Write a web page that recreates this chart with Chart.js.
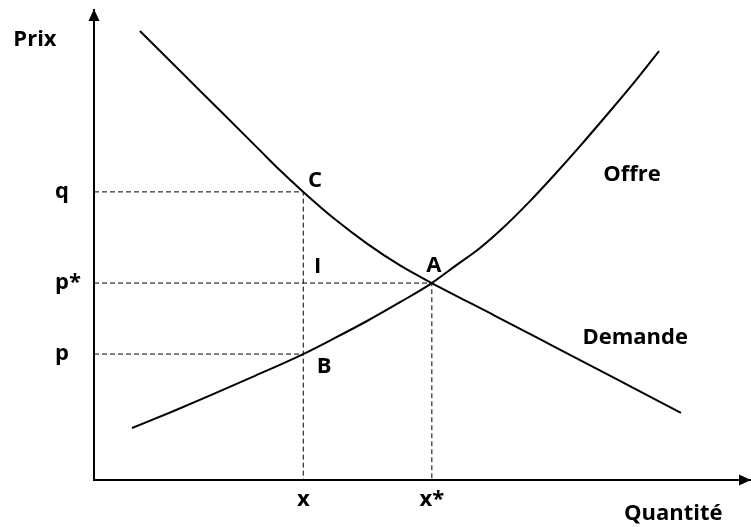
<!DOCTYPE html>
<html>
<head>
<meta charset="utf-8">
<script src="https://cdn.jsdelivr.net/npm/chart.js@4/dist/chart.umd.min.js"></script>
<style>
html,body{margin:0;padding:0;background:#fff;}
canvas{display:block;}
</style>
</head>
<body>
<canvas id="c" width="751" height="527"></canvas>
<script>
// ---- data (arbitrary units: quantity 0-100, price 0-100) ----
const demandX = [7.0, 13.1, 19.2, 25.3, 28.35, 31.9, 36.74, 41.62, 46.65, 51.5, 61.13, 70.43, 79.88, 89.48];
const demandY = [95.53, 87.06, 78.6, 70.13, 65.89, 61.3, 55.47, 50.3, 45.66, 41.9, 34.94, 28.17, 21.28, 14.26];
const supplyX = [5.79, 11.89, 17.99, 24.09, 31.9, 36.74, 41.62, 46.65, 51.5, 55.18, 58.84, 62.65, 66.46, 70.27, 74.09, 77.9, 81.71, 86.13];
const supplyY = [11.06, 14.53, 18.15, 21.89, 26.8, 30.23, 33.83, 37.83, 41.9, 45.66, 49.38, 54.06, 59.34, 65.06, 71.04, 77.23, 83.53, 91.26];

const xTickValues = [31.9, 51.5];
const xTickLabels = ['x', 'x*'];
const yTickValues = [26.8, 41.9, 61.3];
const yTickLabels = ['p', 'p*', 'q'];

const labelTexts = ['Prix', 'Quantité', 'Offre', 'Demande', 'C', 'I', 'A', 'B'];
const labelX = [-9.0, 88.3, 82.0, 82.5, 33.7, 34.1, 51.8, 35.1];
const labelY = [92.3, -8.5, 63.6, 28.9, 62.3, 44.0, 44.3, 22.8];

// ---- build datasets ----
const pts = (xs, ys) => xs.map((x, i) => ({x: x, y: ys[i]}));
const xq = xTickValues[0], xs = xTickValues[1];
const p = yTickValues[0], ps = yTickValues[1], q = yTickValues[2];

const FONT = '"Open Sans", "DejaVu Sans", sans-serif';
const FSIZE = 22;

const dashed = (data) => ({
  data: data, showLine: true, borderColor: '#000', borderWidth: 1,
  borderDash: [5, 3], pointRadius: 0, fill: false, tension: 0
});

const labelsPlugin = {
  id: 'labels',
  afterDraw(chart) {
    const ctx = chart.ctx, xS = chart.scales.x, yS = chart.scales.y, a = chart.chartArea;
    ctx.save();
    // arrows
    ctx.fillStyle = '#000';
    ctx.beginPath();
    ctx.moveTo(a.left, a.top - 1);
    ctx.lineTo(a.left - 5.5, a.top + 11);
    ctx.lineTo(a.left + 5.5, a.top + 11);
    ctx.closePath(); ctx.fill();
    ctx.beginPath();
    ctx.moveTo(a.right + 1, a.bottom);
    ctx.lineTo(a.right - 11, a.bottom - 5.5);
    ctx.lineTo(a.right - 11, a.bottom + 5.5);
    ctx.closePath(); ctx.fill();
    // text labels
    ctx.font = 'bold ' + FSIZE + 'px ' + FONT;
    ctx.textAlign = 'center';
    ctx.textBaseline = 'alphabetic';
    labelTexts.forEach((t, i) => {
      ctx.fillText(t, xS.getPixelForValue(labelX[i]), yS.getPixelForValue(labelY[i]));
    });
    ctx.restore();
  }
};

new Chart(document.getElementById('c'), {
  type: 'scatter',
  data: {
    datasets: [
      dashed([{x: 0, y: q}, {x: xq, y: q}, {x: xq, y: 0}]),
      dashed([{x: 0, y: p}, {x: xq, y: p}]),
      dashed([{x: 0, y: ps}, {x: xs, y: ps}, {x: xs, y: 0}]),
      {data: pts(demandX, demandY), showLine: true, borderColor: '#000', borderWidth: 2,
       pointRadius: 0, cubicInterpolationMode: 'monotone', fill: false},
      {data: pts(supplyX, supplyY), showLine: true, borderColor: '#000', borderWidth: 2,
       pointRadius: 0, cubicInterpolationMode: 'monotone', fill: false}
    ]
  },
  options: {
    responsive: false,
    animation: false,
    devicePixelRatio: 1,
    layout: {padding: {left: 55, top: 10, right: 1, bottom: 0}},
    plugins: {legend: {display: false}, tooltip: {enabled: false}, title: {display: false}},
    scales: {
      x: {
        type: 'linear', min: 0, max: 100,
        grid: {display: false, drawTicks: false},
        border: {display: true, color: '#000', width: 2},
        afterBuildTicks: s => { s.ticks = xTickValues.map(v => ({value: v})); },
        afterFit: s => { s.height = 47; s.paddingLeft = 0; s.paddingRight = 0; },
        ticks: {
          autoSkip: false, maxRotation: 0, padding: 7, color: '#000',
          font: {family: FONT, size: FSIZE, weight: 'bold'},
          callback: (v, i) => xTickLabels[i]
        }
      },
      y: {
        type: 'linear', min: 0, max: 100,
        grid: {display: false, drawTicks: false},
        border: {display: true, color: '#000', width: 2},
        afterBuildTicks: s => { s.ticks = yTickValues.map(v => ({value: v})); },
        afterFit: s => { s.width = 39; s.paddingTop = 0; s.paddingBottom = 0; },
        ticks: {
          autoSkip: false, crossAlign: 'far', padding: 4, color: '#000',
          font: {family: FONT, size: FSIZE, weight: 'bold'},
          callback: (v, i) => yTickLabels[i]
        }
      }
    }
  },
  plugins: [labelsPlugin]
});
</script>
</body>
</html>
